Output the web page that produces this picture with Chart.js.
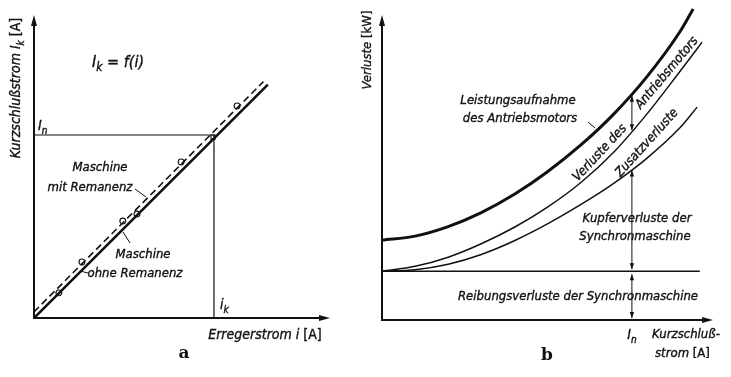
<!DOCTYPE html>
<html>
<head>
<meta charset="utf-8">
<script src="https://cdn.jsdelivr.net/npm/chart.js@4.4.1/dist/chart.umd.min.js"></script>
<style>
  body { margin: 0; background: #fff; width: 731px; height: 377px; position: relative; overflow: hidden; }
  #chartA { position: absolute; left: 0; top: 0; }
  #chartB { position: absolute; left: 355px; top: 0; }
</style>
</head>
<body>
<canvas id="chartA" width="365" height="377"></canvas>
<canvas id="chartB" width="376" height="377"></canvas>
<script>
// --- Bild a: Kurzschlusskennlinie Ik = f(i)
const ohneX = [0, 7.9];            // Maschine ohne Remanenz
const ohneY = [0, 7.7];
const mitX = [0, 7.75];            // Maschine mit Remanenz (gestrichelt)
const mitY = [0.2, 7.8];
const messX = [0.84, 1.62, 3.0, 3.48, 4.97, 6.05, 6.86];   // Messpunkte
const messY = [0.83, 1.85, 3.2, 3.43, 5.15, 5.97, 7.0];
const messStyle = ['circle', 'circle', 'circle', 'circle', 'circle', 'rect', 'circle'];
const nennA = 6.04;   // I_n
const ik = 6.08;      // i_k

// --- Bild b: Verluste ueber Kurzschlussstrom
const aufnahmeX = [0, 1, 2, 3, 4, 5, 6, 7, 8, 9, 9.4];       // Leistungsaufnahme des Antriebsmotors
const aufnahmeY = [2.62, 2.75, 3.06, 3.52, 4.12, 4.86, 5.73, 6.75, 7.97, 9.45, 10.2];
const zusatzX = [0, 1, 2, 3, 4, 5, 6, 7, 8, 9, 9.67];        // obere Grenze Zusatzverluste
const zusatzY = [1.6, 1.76, 2.06, 2.5, 3.04, 3.7, 4.5, 5.5, 6.75, 8.15, 9.11];
const kupferX = [0, 1, 2, 3, 4, 5, 6, 7, 8, 9, 9.52];        // obere Grenze Kupferverluste
const kupferY = [1.6, 1.65, 1.83, 2.15, 2.6, 3.15, 3.78, 4.48, 5.3, 6.3, 6.98];
const reibung = 1.6;     // Reibungsverluste (konstant)
const reibEnd = 9.6;
const nennB = 7.55;      // I_n

const FAM = "'DejaVu Sans Condensed', 'Liberation Sans Narrow', 'Liberation Sans', sans-serif";
const INK = '#111';

const pts = (xs, ys) => xs.map((x, i) => ({ x: x, y: ys[i] }));

function interp(xs, ys, x) {
  for (let i = 1; i < xs.length; i++) {
    if (x <= xs[i]) {
      const t = (x - xs[i - 1]) / (xs[i] - xs[i - 1]);
      return ys[i - 1] + t * (ys[i] - ys[i - 1]);
    }
  }
  return ys[ys.length - 1];
}

function head(ctx, x, y, ang, len, w) {
  ctx.save();
  ctx.translate(x, y);
  ctx.rotate(ang);
  ctx.beginPath();
  ctx.moveTo(0, 0);
  ctx.lineTo(-len, -w);
  ctx.lineTo(-len, w);
  ctx.closePath();
  ctx.fill();
  ctx.restore();
}

function line(ctx, x1, y1, x2, y2, lw) {
  ctx.lineWidth = lw;
  ctx.beginPath();
  ctx.moveTo(x1, y1);
  ctx.lineTo(x2, y2);
  ctx.stroke();
}

// fill + thin stroke, the scan print is a bit heavier than plain text
function ink(ctx, txt, x, y) {
  ctx.fillText(txt, x, y);
  ctx.lineWidth = 0.35;
  ctx.strokeText(txt, x, y);
}

// text with subscripts: parts = [[text, isSub, style]]
function rich(ctx, parts, x, y, size, align) {
  const fonts = parts.map(p => (p[2] || 'italic') + ' ' + (p[1] ? Math.round(size * 0.72) : size) + 'px ' + FAM);
  let w = 0;
  parts.forEach((p, i) => { ctx.font = fonts[i]; w += ctx.measureText(p[0]).width; });
  let cx = align === 'center' ? x - w / 2 : align === 'right' ? x - w : x;
  ctx.textAlign = 'left';
  ctx.textBaseline = 'alphabetic';
  parts.forEach((p, i) => {
    ctx.font = fonts[i];
    ink(ctx, p[0], cx, p[1] ? y + size * 0.28 : y);
    cx += ctx.measureText(p[0]).width;
  });
}

function axes(chart, xmax, ymax) {
  const ctx = chart.ctx, sx = chart.scales.x, sy = chart.scales.y;
  const x0 = sx.getPixelForValue(0), y0 = sy.getPixelForValue(0);
  const x1 = sx.getPixelForValue(xmax), y1 = sy.getPixelForValue(ymax);
  ctx.strokeStyle = INK; ctx.fillStyle = INK;
  line(ctx, x0, y0, x0, y1 + 6, 2);
  line(ctx, x0 - 1, y0, x1 - 6, y0, 2);
  head(ctx, x0, y1, -Math.PI / 2, 11, 3);
  head(ctx, x1, y0, 0, 11, 3);
}

function dblArrow(ctx, x, ya, yb) {
  line(ctx, x, ya, x, yb, 1);
  head(ctx, x, ya, -Math.PI / 2, 6, 2.2);
  head(ctx, x, yb, Math.PI / 2, 6, 2.2);
}

const baseOptions = (pad, xmax, ymax) => ({
  responsive: false,
  animation: false,
  events: [],
  layout: { padding: pad },
  plugins: { legend: { display: false }, tooltip: { enabled: false } },
  scales: {
    x: { type: 'linear', min: 0, max: xmax, display: false },
    y: { type: 'linear', min: 0, max: ymax, display: false }
  }
});

// ---------- Chart a ----------
const textA = {
  id: 'textA',
  afterDatasetsDraw(chart) {
    const ctx = chart.ctx, sx = chart.scales.x, sy = chart.scales.y;
    axes(chart, 10, 10);
    ctx.save();
    ctx.fillStyle = INK; ctx.strokeStyle = INK;
    rich(ctx, [['I'], ['k', true], [' = f(i)']], 92, 67, 16, 'left');
    rich(ctx, [['I'], ['n', true]], 38, sy.getPixelForValue(nennA) - 5, 14, 'left');
    rich(ctx, [['i'], ['k', true]], sx.getPixelForValue(ik) + 6, 309, 14, 'left');
    rich(ctx, [['Erregerstrom i '], ['[A]', false, 'normal']], 265, 339, 14, 'center');
    rich(ctx, [['Maschine']], 100, 171, 13, 'center');
    rich(ctx, [['mit Remanenz']], 90, 191, 13, 'center');
    rich(ctx, [['Maschine']], 143, 258, 13, 'center');
    rich(ctx, [['ohne Remanenz']], 135, 277, 13, 'center');
    line(ctx, 135, 189, 146, 197, 1);
    line(ctx, 123, 232, 130, 243, 1);
    line(ctx, 80, 271, 88, 273, 1);
    ctx.font = 'bold 17px "DejaVu Serif", "Liberation Serif", serif';
    ctx.textAlign = 'center';
    ctx.fillText('a', 184, 358);
    ctx.translate(20, 88);
    ctx.rotate(-Math.PI / 2);
    rich(ctx, [['Kurzschlußstrom I'], ['k', true], [' '], ['[A]', false, 'normal']], 0, 0, 14, 'center');
    ctx.restore();
  }
};

new Chart(document.getElementById('chartA'), {
  type: 'scatter',
  data: {
    datasets: [
      { data: pts([0, ik, ik], [nennA, nennA, 0]), showLine: true, borderColor: INK, borderWidth: 1.2, pointRadius: 0 },
      { data: pts(mitX, mitY), showLine: true, borderColor: INK, borderWidth: 1.6, borderDash: [7, 4], pointRadius: 0 },
      { data: pts(ohneX, ohneY), showLine: true, borderColor: INK, borderWidth: 2.6, pointRadius: 0 },
      { data: pts(messX, messY), showLine: false, pointStyle: messStyle, pointRadius: 2.9,
        pointBackgroundColor: '#fff', pointBorderColor: INK, pointBorderWidth: 1.1 }
    ]
  },
  options: baseOptions({ left: 34, right: 35, top: 15, bottom: 59 }, 10, 10),
  plugins: [textA]
});

// ---------- Chart b ----------
const textB = {
  id: 'textB',
  afterDatasetsDraw(chart) {
    const ctx = chart.ctx, sx = chart.scales.x, sy = chart.scales.y;
    axes(chart, 10, 10);
    ctx.save();
    ctx.fillStyle = INK; ctx.strokeStyle = INK;
    const xn = sx.getPixelForValue(nennB);
    const yTop = sy.getPixelForValue(interp(aufnahmeX, aufnahmeY, nennB));
    const yMid = sy.getPixelForValue(interp(zusatzX, zusatzY, nennB));
    const yLow = sy.getPixelForValue(interp(kupferX, kupferY, nennB));
    const yR = sy.getPixelForValue(reibung), y0 = sy.getPixelForValue(0);
    dblArrow(ctx, xn, yTop + 2, yMid - 1);
    dblArrow(ctx, xn, yLow + 1, yR - 2);
    dblArrow(ctx, xn, yR + 3, y0 - 2);

    rich(ctx, [['Leistungsaufnahme']], 163, 104, 13, 'center');
    rich(ctx, [['des Antriebsmotors']], 165, 122, 13, 'center');
    line(ctx, 233, 122, 240, 128, 1);
    rich(ctx, [['Kupferverluste der']], 282, 222, 13, 'center');
    rich(ctx, [['Synchronmaschine']], 280, 240, 13, 'center');
    rich(ctx, [['Reibungsverluste der Synchronmaschine']], 223, 300, 13, 'center');
    rich(ctx, [['I'], ['n', true]], xn, 339, 14, 'center');
    rich(ctx, [['Kurzschluß-']], 297, 338, 13, 'left');
    rich(ctx, [['strom '], ['[A]', false, 'normal']], 300, 357, 13, 'left');

    const rot = (txt, x, y, deg) => {
      ctx.save();
      ctx.translate(x, y);
      ctx.rotate(-deg * Math.PI / 180);
      ctx.font = 'italic 13px ' + FAM;
      ctx.textAlign = 'center';
      ctx.textBaseline = 'middle';
      ink(ctx, txt, 0, 0);
      ctx.restore();
    };
    rot('Verluste des', 245, 153, 47);
    rot('Antriebsmotors', 312, 73, 50);
    rot('Zusatzverluste', 292, 143, 48);

    ctx.font = 'bold 17px "DejaVu Serif", "Liberation Serif", serif';
    ctx.textAlign = 'center';
    ctx.textBaseline = 'alphabetic';
    ctx.fillText('b', 192, 360);
    ctx.translate(12, 50);
    ctx.rotate(-Math.PI / 2);
    rich(ctx, [['Verluste '], ['[kW]', false, 'normal']], 0, 4, 13, 'center');
    ctx.restore();
  }
};

new Chart(document.getElementById('chartB'), {
  type: 'scatter',
  data: {
    datasets: [
      { data: pts([0, reibEnd], [reibung, reibung]), showLine: true, borderColor: INK, borderWidth: 1.5, pointRadius: 0 },
      { data: pts(kupferX, kupferY), showLine: true, borderColor: INK, borderWidth: 1.5, pointRadius: 0,
        cubicInterpolationMode: 'monotone', clip: false },
      { data: pts(zusatzX, zusatzY), showLine: true, borderColor: INK, borderWidth: 1.5, pointRadius: 0,
        cubicInterpolationMode: 'monotone', clip: false },
      { data: pts(aufnahmeX, aufnahmeY), showLine: true, borderColor: INK, borderWidth: 3, pointRadius: 0,
        cubicInterpolationMode: 'monotone', clip: false }
    ]
  },
  options: baseOptions({ left: 27, right: 18, top: 15, bottom: 57 }, 10, 10),
  plugins: [textB]
});
</script>
</body>
</html>
